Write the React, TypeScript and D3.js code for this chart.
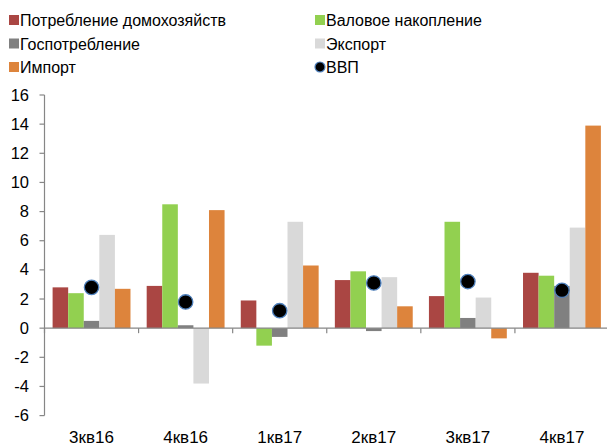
import React from "react";
import * as d3 from "d3";

const categories = ["3кв16", "4кв16", "1кв17", "2кв17", "3кв17", "4кв17"];
const household = [2.8, 2.9, 1.9, 3.3, 2.2, 3.8];
const investment = [2.4, 8.5, -1.2, 3.9, 7.3, 3.6];
const government = [0.5, 0.2, -0.6, -0.2, 0.7, 2.9];
const exportVals = [6.4, -3.8, 7.3, 3.5, 2.1, 6.9];
const importVals = [2.7, 8.1, 4.3, 1.5, -0.7, 13.9];
const gdp = [2.8, 1.8, 1.2, 3.1, 3.2, 2.6];
const yTicks = [16, 14, 12, 10, 8, 6, 4, 2, 0, -2, -4, -6];

const barSeries = [
  { name: "Потребление домохозяйств", values: household, color: "#AA4643" },
  { name: "Валовое накопление", values: investment, color: "#92D050" },
  { name: "Госпотребление", values: government, color: "#808080" },
  { name: "Экспорт", values: exportVals, color: "#D9D9D9" },
  { name: "Импорт", values: importVals, color: "#DD843C" },
];

const W = 607;
const H = 447;
const FONT = "'Liberation Sans', Arial, sans-serif";

export default function App() {
  const x = d3.scaleBand<string>().domain(categories).range([44.5, 609]).paddingInner(0).paddingOuter(0);
  const inner = d3
    .scaleBand<string>()
    .domain(barSeries.map((s) => s.name))
    .range([0, x.bandwidth()])
    .paddingOuter(0.52)
    .paddingInner(0);
  const y = d3.scaleLinear().domain([-6, 16]).range([415.6, 95]);
  const axisColor = "#868686";

  const legend = [
    { name: "Потребление домохозяйств", color: "#AA4643", type: "rect", col: 0, row: 0 },
    { name: "Валовое накопление", color: "#92D050", type: "rect", col: 1, row: 0 },
    { name: "Госпотребление", color: "#808080", type: "rect", col: 0, row: 1 },
    { name: "Экспорт", color: "#D9D9D9", type: "rect", col: 1, row: 1 },
    { name: "Импорт", color: "#DD843C", type: "rect", col: 0, row: 2 },
    { name: "ВВП", color: "#000", type: "dot", col: 1, row: 2 },
  ];

  const catEdges = categories.map((c) => x(c)!).concat([x(categories[categories.length - 1])! + x.bandwidth()]);

  return (
    <svg width={W} height={H} style={{ position: "absolute", left: 0, top: 0, fontFamily: FONT }}>
      <rect width={W} height={H} fill="#fff" />
      {legend.map((l) => {
        const lx = l.col === 0 ? 9 : 315;
        const ly = 20 + l.row * 23.5;
        return (
          <g key={l.name}>
            {l.type === "rect" ? (
              <rect x={lx} y={ly - 5} width={10} height={10} fill={l.color} />
            ) : (
              <circle cx={lx + 5} cy={ly} r={5} fill="#000" stroke="#4F81BD" strokeWidth={1.2} />
            )}
            <text x={lx + 11} y={ly + 6} fontSize={16} fill="#000">
              {l.name}
            </text>
          </g>
        );
      })}

      {/* y axis */}
      <line x1={44.5} x2={44.5} y1={y(16)} y2={y(-6)} stroke={axisColor} strokeWidth={1.2} />
      {yTicks.map((t) => (
        <g key={t}>
          <line x1={39.5} x2={44.5} y1={y(t)} y2={y(t)} stroke={axisColor} strokeWidth={1.2} />
          <text x={29} y={y(t) + 5.5} textAnchor="end" fontSize={16.5} fill="#000">
            {t}
          </text>
        </g>
      ))}

      {/* bars */}
      {barSeries.map((s) =>
        s.values.map((v, i) => {
          const bx = x(categories[i])! + inner(s.name)!;
          const y0 = y(0);
          const y1 = y(v);
          return (
            <rect
              key={s.name + i}
              x={bx}
              y={Math.min(y0, y1)}
              width={inner.bandwidth()}
              height={Math.abs(y1 - y0)}
              fill={s.color}
            />
          );
        })
      )}

      {/* x axis */}
      <line x1={44.5} x2={609} y1={y(0)} y2={y(0)} stroke={axisColor} strokeWidth={1.2} />
      {catEdges.map((e, i) => (
        <line key={i} x1={e} x2={e} y1={y(0)} y2={y(0) + 5} stroke={axisColor} strokeWidth={1.2} />
      ))}

      {/* GDP dots */}
      {gdp.map((v, i) => (
        <circle
          key={i}
          cx={x(categories[i])! + x.bandwidth() / 2}
          cy={y(v)}
          r={7.2}
          fill="#000"
          stroke="#4F81BD"
          strokeWidth={1.3}
        />
      ))}

      {categories.map((c) => (
        <text key={c} x={x(c)! + x.bandwidth() / 2} y={443} textAnchor="middle" fontSize={17} fill="#000">
          {c}
        </text>
      ))}
    </svg>
  );
}
